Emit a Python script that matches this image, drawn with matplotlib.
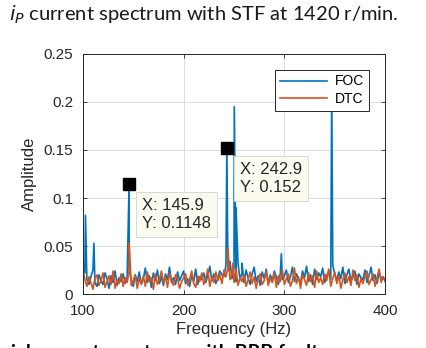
import numpy as np
import matplotlib
matplotlib.use("Agg")
import matplotlib.pyplot as plt

# frequency grid of the noise floor (Hz)
freq = np.arange(100, 401, 2)

foc_noise = [
    0.035, 0.022, 0.015, 0.010, 0.018, 0.025, 0.012, 0.008, 0.020, 0.014,
    0.010, 0.022, 0.016, 0.006, 0.019, 0.012, 0.024, 0.009, 0.017, 0.013,
    0.021, 0.011, 0.018, 0.026, 0.015, 0.008, 0.020, 0.013, 0.023, 0.010,
    0.016, 0.027, 0.012, 0.019, 0.007, 0.022, 0.014, 0.025, 0.011, 0.018,
    0.009, 0.021, 0.015, 0.028, 0.012, 0.017, 0.010, 0.023, 0.014, 0.019,
    0.024, 0.011, 0.016, 0.008, 0.020, 0.013, 0.026, 0.010, 0.018, 0.015,
    0.022, 0.012, 0.019, 0.029, 0.014, 0.021, 0.011, 0.017, 0.024, 0.020,
    0.018, 0.030, 0.024, 0.034, 0.016, 0.027, 0.013, 0.032, 0.015, 0.022,
    0.012, 0.025, 0.017, 0.010, 0.021, 0.028, 0.013, 0.019, 0.009, 0.023,
    0.016, 0.026, 0.011, 0.020, 0.014, 0.024, 0.018, 0.010, 0.022, 0.015,
    0.019, 0.025, 0.012, 0.018, 0.028, 0.013, 0.021, 0.016, 0.011, 0.024,
    0.017, 0.029, 0.013, 0.020, 0.010, 0.026, 0.015, 0.022, 0.018, 0.027,
    0.012, 0.019, 0.024, 0.015, 0.030, 0.021, 0.014, 0.023, 0.016, 0.028,
    0.011, 0.020, 0.026, 0.013, 0.018, 0.024, 0.010, 0.021, 0.017, 0.015,
    0.025, 0.012, 0.019, 0.028, 0.014, 0.020, 0.011, 0.023, 0.016, 0.018,
    0.013,
]

dtc_noise = [
    0.026, 0.015, 0.008, 0.018, 0.012, 0.005, 0.016, 0.020, 0.009, 0.014,
    0.022, 0.007, 0.013, 0.019, 0.010, 0.024, 0.006, 0.015, 0.011, 0.021,
    0.008, 0.017, 0.012, 0.025, 0.009, 0.014, 0.020, 0.006, 0.016, 0.011,
    0.019, 0.008, 0.023, 0.013, 0.017, 0.005, 0.021, 0.010, 0.015, 0.024,
    0.012, 0.018, 0.007, 0.022, 0.014, 0.009, 0.020, 0.016, 0.006, 0.013,
    0.017, 0.021, 0.009, 0.015, 0.024, 0.011, 0.007, 0.019, 0.013, 0.022,
    0.010, 0.016, 0.026, 0.008, 0.018, 0.012, 0.023, 0.014, 0.020, 0.011,
    0.025, 0.018, 0.028, 0.015, 0.021, 0.012, 0.026, 0.009, 0.017, 0.013,
    0.020, 0.008, 0.015, 0.023, 0.011, 0.018, 0.006, 0.016, 0.021, 0.010,
    0.014, 0.024, 0.009, 0.017, 0.012, 0.022, 0.007, 0.019, 0.013, 0.025,
    0.010, 0.016, 0.021, 0.008, 0.014, 0.027, 0.011, 0.018, 0.006, 0.020,
    0.015, 0.009, 0.022, 0.013, 0.019, 0.007, 0.024, 0.012, 0.017, 0.010,
    0.021, 0.014, 0.026, 0.008, 0.016, 0.023, 0.011, 0.019, 0.006, 0.015,
    0.022, 0.012, 0.018, 0.009, 0.025, 0.014, 0.020, 0.007, 0.016, 0.011,
    0.019, 0.024, 0.010, 0.015, 0.021, 0.008, 0.017, 0.026, 0.012, 0.018,
    0.014,
]

# harmonic peaks
foc_peak_freq = [102.6, 111, 145.9, 242.9, 250.3, 252, 258, 297, 347]
foc_peak_amp = [0.082, 0.053, 0.1148, 0.152, 0.195, 0.09, 0.032, 0.042, 0.21]
dtc_peak_freq = [146, 244, 249]
dtc_peak_amp = [0.053, 0.048, 0.032]

# data tips
tip_x = [145.9, 242.9]
tip_y = [0.1148, 0.152]
tip_text = ["X: 145.9\nY: 0.1148", "X: 242.9\nY: 0.152"]

xticks = [100, 200, 300, 400]
yticks = [0, 0.05, 0.1, 0.15, 0.2, 0.25]
ytick_labels = ["0", "0.05", "0.1", "0.15", "0.2", "0.25"]


def merge(f, a, pf, pa):
    ff = np.concatenate([f, pf])
    aa = np.concatenate([a, pa])
    idx = np.argsort(ff, kind="stable")
    return ff[idx], aa[idx]


foc_f, foc_a = merge(freq, foc_noise, foc_peak_freq, foc_peak_amp)
dtc_f, dtc_a = merge(freq, dtc_noise, dtc_peak_freq, dtc_peak_amp)

plt.rcParams["font.family"] = ["Liberation Sans", "DejaVu Sans"]

fig = plt.figure(figsize=(4.27, 3.48), dpi=100)
ax = fig.add_axes([0.194, 0.155, 0.708, 0.690])

ax.plot(foc_f, foc_a, color="#0072BD", lw=1.2, label="FOC")
ax.plot(dtc_f, dtc_a, color="#D95319", lw=1.2, label="DTC")

ax.set_xlim(100, 400)
ax.set_ylim(0, 0.25)
ax.set_xticks(xticks)
ax.set_yticks(yticks)
ax.set_yticklabels(ytick_labels)
ax.grid(True, color="#dcdcdc", lw=0.7)
ax.set_axisbelow(True)
ax.tick_params(direction="in", length=3, width=0.6, top=True, right=True,
               labelsize=11, colors="#262626")
ax.tick_params(axis="x", pad=7)
ax.tick_params(axis="y", pad=7)
for s in ax.spines.values():
    s.set_color("#262626")
    s.set_linewidth(0.7)

ax.set_xlabel("Frequency (Hz)", fontsize=12, color="#262626", labelpad=3)
ax.set_ylabel("Amplitude", fontsize=12, color="#262626", labelpad=5)

leg = ax.legend(loc="upper right", bbox_to_anchor=(0.945, 0.935), fontsize=10,
                handlelength=3.4, fancybox=False, framealpha=1,
                edgecolor="#262626", borderpad=0.35, labelspacing=0.25,
                handletextpad=0.5, borderaxespad=0)
leg.get_frame().set_linewidth(0.7)
leg.set_zorder(5)

for x, y, t in zip(tip_x, tip_y, tip_text):
    ax.plot(x, y, "s", color="black", ms=8.5, zorder=6)
    ax.annotate(t, xy=(x, y), xytext=(13, -14), textcoords="offset pixels",
                ha="left", va="top", fontsize=12, color="#262626", zorder=6,
                linespacing=1.25,
                bbox=dict(boxstyle="square,pad=0.35", fc="#fbfbef",
                          ec="#d8d8d8", lw=0.7))

fig.text(0.022, 0.958, r"$i_{P}$ current spectrum with STF at 1420 r/min.",
         fontsize=14.5, family=["Lato", "DejaVu Sans"], color="#1a1a1a",
         va="center", ha="left")

# next caption, cut by the image edge
fig.text(0.025, 0.012, "ial current spectrum with BRB fault a",
         fontsize=14, weight="bold", family=["Lato", "DejaVu Sans"],
         color="black", va="top", ha="left")

fig.savefig("out.png", dpi=100)
